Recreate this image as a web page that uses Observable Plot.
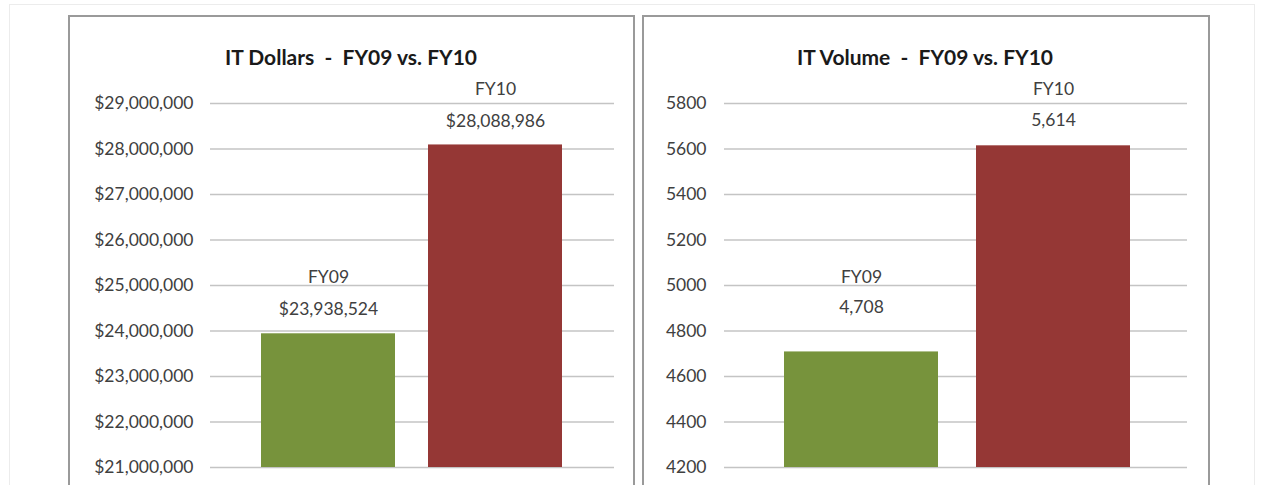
<!DOCTYPE html>
<html>
<head>
<meta charset="utf-8">
<script src="https://cdn.jsdelivr.net/npm/d3@7"></script>
<script src="https://cdn.jsdelivr.net/npm/@observablehq/plot@0.6"></script>
<style>
  html, body { margin: 0; padding: 0; background: #fff; }
  body { width: 1266px; height: 485px; overflow: hidden; position: relative; font-family: Lato, "Noto Sans", sans-serif; }
  .outer { position: absolute; left: 9px; top: 4px; width: 1244px; height: 520px; border: 1.5px solid #ececec; }
  .panel { position: absolute; top: 15px; height: 520px; border: 2px solid #9a9a9a; box-sizing: border-box; background: #fff; }
  .title { position: absolute; top: 44px; font-weight: bold; font-size: 21px; color: #1a1a1a; white-space: pre; transform: translateX(-50%); }
  .chart { position: absolute; top: 15px; }
</style>
</head>
<body>
<div class="outer"></div>
<div class="panel" style="left:68px; width:567px;"></div>
<div class="panel" style="left:642px; width:568px;"></div>
<div class="title" style="left:351px;">IT Dollars  -  FY09 vs. FY10</div>
<div class="title" style="left:925px;">IT Volume  -  FY09 vs. FY10</div>
<div id="left" class="chart" style="left:68px;"></div>
<div id="right" class="chart" style="left:642px;"></div>
<script>
const categories = ["FY09", "FY10"];
const dollars = [23938524, 28088986];
const volume = [4708, 5614];
const dollarTicks = [21000000, 22000000, 23000000, 24000000, 25000000, 26000000, 27000000, 28000000, 29000000];
const volumeTicks = [4200, 4400, 4600, 4800, 5000, 5200, 5400, 5600, 5800];
const barColors = ["#77933c", "#953735"];

const dollarRows = categories.map((c, i) => ({cat: c, value: dollars[i]}));
const volumeRows = categories.map((c, i) => ({cat: c, value: volume[i]}));

const fmtDollar = d3.format("$,");
const fmtCount = d3.format(",");
const fmtTick = d3.format("d");

const baseStyle = {fontFamily: "Lato, 'Noto Sans', sans-serif", fontSize: "17.5px", color: "#404040", background: "transparent", overflow: "visible"};
const fs = 17.5;

const leftChart = Plot.plot({
  width: 567, height: 470,
  marginLeft: 142, marginRight: 21, marginTop: 0, marginBottom: 18,
  style: baseStyle,
  x: {domain: categories, range: [192, 494.4], paddingInner: 0.2, paddingOuter: 0, axis: null},
  y: {domain: [21000000, 29000000], range: [452, 88], axis: null},
  color: {domain: categories, range: barColors},
  marks: [
    Plot.ruleY(dollarTicks, {stroke: "#c4c4c4", strokeWidth: 1.6}),
    Plot.barY(dollarRows, {x: "cat", y1: 21000000, y2: "value", fill: "cat"}),
    Plot.axisY({ticks: dollarTicks, tickFormat: fmtDollar, tickSize: 0, tickPadding: 17, fontSize: fs, fill: "#404040", label: null}),
    Plot.text(dollarRows, {x: "cat", y: "value", text: "cat", dy: -56, fontSize: fs, fill: "#404040"}),
    Plot.text(dollarRows, {x: "cat", y: "value", text: d => fmtDollar(d.value), dy: -24, fontSize: fs, fill: "#404040"})
  ]
});
document.getElementById("left").append(leftChart);

const rightChart = Plot.plot({
  width: 567, height: 470,
  marginLeft: 82, marginRight: 22, marginTop: 0, marginBottom: 18,
  style: baseStyle,
  x: {domain: categories, range: [141, 488.4], paddingInner: 0.2, paddingOuter: 0, axis: null},
  y: {domain: [4200, 5800], range: [452, 88], axis: null},
  color: {domain: categories, range: barColors},
  marks: [
    Plot.ruleY(volumeTicks, {stroke: "#c4c4c4", strokeWidth: 1.6}),
    Plot.barY(volumeRows, {x: "cat", y1: 4200, y2: "value", fill: "cat"}),
    Plot.axisY({ticks: volumeTicks, tickFormat: fmtTick, tickSize: 0, tickPadding: 18, fontSize: fs, fill: "#404040", label: null}),
    Plot.text(volumeRows.filter(d => d.cat === "FY10"), {x: "cat", y: "value", text: "cat", dy: -56, fontSize: fs, fill: "#404040"}),
    Plot.text(volumeRows.filter(d => d.cat === "FY10"), {x: "cat", y: "value", text: d => fmtCount(d.value), dy: -25, fontSize: fs, fill: "#404040"}),
    Plot.text(volumeRows.filter(d => d.cat === "FY09"), {x: "cat", y: "value", text: "cat", dy: -75, fontSize: fs, fill: "#404040"}),
    Plot.text(volumeRows.filter(d => d.cat === "FY09"), {x: "cat", y: "value", text: d => fmtCount(d.value), dy: -45, fontSize: fs, fill: "#404040"})
  ]
});
document.getElementById("right").append(rightChart);
</script>
</body>
</html>
